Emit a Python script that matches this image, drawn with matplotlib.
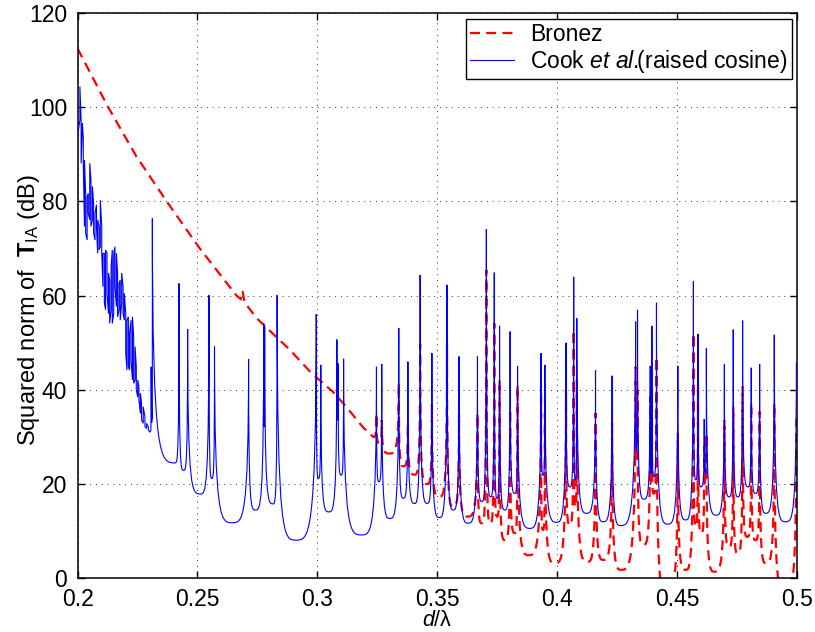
import matplotlib
matplotlib.use("Agg")
import matplotlib.pyplot as plt
from matplotlib.path import Path
from matplotlib.patches import PathPatch
from matplotlib.lines import Line2D

plt.rcParams["font.family"] = ["Liberation Sans", "DejaVu Sans"]
plt.rcParams["mathtext.fontset"] = "custom"
plt.rcParams["mathtext.rm"] = "Liberation Sans"
plt.rcParams["mathtext.it"] = "Liberation Sans:italic"
plt.rcParams["mathtext.bf"] = "Liberation Sans:bold"
plt.rcParams["font.size"] = 16.5

# ---- Cook et al. (raised cosine): noisy start, one high/low pair per column
cook_noise_x = [0.2000, 0.2010, 0.2015, 0.2020, 0.2024, 0.2029, 0.2034, 0.2040, 0.2045,
                0.2051, 0.2056, 0.2062, 0.2067, 0.2073, 0.2079, 0.2084, 0.2090, 0.2095,
                0.2101, 0.2106, 0.2112, 0.2117, 0.2123, 0.2129, 0.2134, 0.2140, 0.2145,
                0.2151, 0.2156, 0.2162, 0.2167, 0.2173, 0.2178, 0.2184, 0.2190, 0.2195,
                0.2201, 0.2206, 0.2212, 0.2217, 0.2223, 0.2229, 0.2234, 0.2240, 0.2245,
                0.2251, 0.2256, 0.2262, 0.2267, 0.2274, 0.2281, 0.2288, 0.2295]
cook_noise_hi = [110.4, 104.4, 97.3, 96.6, 93.8, 88.8, 81.7, 81.0, 81.7, 88.1, 84.6, 83.2,
                 79.6, 77.5, 79.3, 76.1, 74.7, 80.3, 74.7, 69.0, 69.0, 69.7, 69.0, 64.8,
                 63.3, 66.2, 69.7, 69.0, 70.4, 69.0, 64.8, 62.6, 63.3, 64.8, 61.9, 60.5,
                 56.2, 54.8, 55.5, 52.0, 54.8, 55.5, 51.3, 49.2, 44.9, 42.1, 40.7, 39.3,
                 37.1, 36.4, 34.3, 32.9, 32.2]
cook_noise_lo = [93.8, 97.3, 88.1, 95.2, 88.1, 74.7, 73.3, 71.8, 77.5, 76.1, 74.7, 76.1,
                 73.3, 71.8, 74.7, 69.0, 69.7, 70.4, 69.0, 61.9, 58.4, 57.0, 60.5, 56.2,
                 54.1, 57.0, 54.1, 56.2, 61.9, 57.7, 55.5, 57.0, 54.8, 58.4, 56.2, 54.8,
                 47.8, 44.2, 44.9, 44.2, 46.3, 42.1, 41.4, 42.1, 40.0, 38.5, 37.8, 35.0,
                 33.6, 32.9, 32.2, 31.8, 31.5]
cook_tail_x = [0.2302, 0.2306, 0.2307, 0.2309, 0.2311]
cook_tail_y = [31.0, 31.5, 44.9, 33.0, 34.0]

# resonance peaks and the valley that follows each peak
cook_peak_x = [0.2312, 0.2423, 0.2459, 0.2548, 0.2571, 0.2713, 0.2776, 0.2780, 0.2832,
               0.2995, 0.3014, 0.3081, 0.3086, 0.3109, 0.3246, 0.3268, 0.3339, 0.3377,
               0.3428, 0.3477, 0.3540, 0.3590, 0.3667, 0.3704, 0.3737, 0.3759, 0.3803,
               0.3834, 0.3932, 0.3948, 0.4036, 0.4068, 0.4081, 0.4159, 0.4228, 0.4326,
               0.4334, 0.4387, 0.4394, 0.4413, 0.4502, 0.4567, 0.4586, 0.4612, 0.4621,
               0.4696, 0.4733, 0.4772, 0.4808, 0.4843, 0.4904, 0.4996]
cook_peak_y = [76.4, 62.6, 52.9, 60.1, 49.2, 46.5, 54.1, 53.5, 60.1,
               56.1, 45.3, 50.7, 45.6, 46.6, 44.9, 45.5, 53.1, 46.0,
               64.4, 47.8, 62.3, 47.1, 47.1, 74.1, 64.9, 53.6, 52.4,
               45.1, 47.8, 45.3, 50.0, 64.0, 55.2, 44.2, 43.0, 54.5,
               57.0, 45.1, 53.6, 58.5, 45.1, 63.1, 51.9, 33.8, 48.8,
               45.4, 52.8, 54.7, 44.7, 45.5, 51.7, 45.8]
cook_valley_x = [0.2407, 0.2442, 0.2512, 0.2560, 0.2645, 0.2741, 0.2778, 0.2815, 0.2910,
                 0.3004, 0.3047, 0.3084, 0.3099, 0.3184, 0.3256, 0.3302, 0.3358, 0.3405,
                 0.3458, 0.3508, 0.3566, 0.3628, 0.3685, 0.3722, 0.3749, 0.3781, 0.3823,
                 0.3885, 0.3940, 0.3997, 0.4052, 0.4075, 0.4122, 0.4191, 0.4263, 0.4330,
                 0.4361, 0.4390, 0.4402, 0.4460, 0.4535, 0.4577, 0.4598, 0.4617, 0.4663,
                 0.4716, 0.4752, 0.4795, 0.4826, 0.4868, 0.4951]
cook_valley_y = [24.5, 22.9, 17.9, 21.2, 11.8, 14.5, 32.2, 15.8, 8.1,
                 21.2, 14.1, 33.6, 21.9, 9.2, 20.5, 12.7, 17.0, 15.9,
                 15.9, 12.9, 14.5, 11.7, 16.3, 17.3, 17.0, 14.5, 18.0,
                 10.6, 21.9, 11.9, 19.4, 20.9, 13.8, 12.0, 11.2, 27.2,
                 16.8, 22.3, 21.6, 11.5, 12.4, 20.9, 19.4, 22.2, 13.4,
                 17.3, 17.3, 19.4, 18.0, 13.8, 12.0]

# ---- Bronez: smooth decay, then resonances
bronez_line_x = [0.2000, 0.2128, 0.2245, 0.2372, 0.2510, 0.2663, 0.2680, 0.2688, 0.2696,
                 0.2747, 0.2885, 0.2969, 0.3066, 0.3110, 0.3191, 0.3233]
bronez_line_y = [112.5, 100.0, 89.6, 80.0, 70.0, 60.0, 59.3, 61.0, 58.6,
                 55.2, 48.5, 43.9, 39.5, 37.0, 32.0, 30.0]
bronez_peak_x = [0.3246, 0.3268, 0.3339, 0.3377, 0.3428, 0.3477, 0.3540, 0.3590, 0.3667,
                 0.3704, 0.3737, 0.3759, 0.3803, 0.3834, 0.3932, 0.3948, 0.4036, 0.4068,
                 0.4081, 0.4159, 0.4228, 0.4326, 0.4334, 0.4387, 0.4394, 0.4413, 0.4502,
                 0.4567, 0.4586, 0.4612, 0.4621, 0.4696, 0.4733, 0.4772, 0.4808, 0.4843,
                 0.4904, 0.4996]
bronez_peak_y = [35.0, 33.6, 41.4, 32.9, 49.7, 36.8, 49.9, 35.0, 35.0,
                 65.5, 54.1, 42.1, 36.0, 40.9, 39.6, 35.0, 39.3, 52.7,
                 42.1, 35.1, 32.9, 44.9, 40.0, 38.6, 34.0, 47.0, 30.8,
                 52.0, 41.4, 28.0, 30.8, 33.6, 36.4, 40.7, 37.2, 35.4,
                 37.2, 34.0]
bronez_valley_x = [0.3256, 0.3300, 0.3358, 0.3405, 0.3456, 0.3508, 0.3566, 0.3625, 0.3685,
                   0.3720, 0.3749, 0.3781, 0.3823, 0.3880, 0.3940, 0.3990, 0.4052, 0.4075,
                   0.4125, 0.4192, 0.4266, 0.4330, 0.4358, 0.4390, 0.4402, 0.4455, 0.4535,
                   0.4577, 0.4600, 0.4617, 0.4655, 0.4716, 0.4752, 0.4792, 0.4826, 0.4870,
                   0.4950]
bronez_valley_y = [28.8, 26.5, 23.8, 22.0, 20.0, 17.3, 15.2, 13.1, 11.7,
                   11.7, 13.1, 8.1, 9.6, 4.9, 10.3, 3.2, 11.3, 15.2,
                   3.5, 3.9, 1.8, 25.0, 7.1, 20.0, 18.0, -3.0, 1.8,
                   11.0, 9.6, 20.0, 1.4, 6.7, 5.3, 8.8, 8.1, 3.2,
                   -3.0]

x_ticks = [0.2, 0.25, 0.3, 0.35, 0.4, 0.45, 0.5]
y_ticks = [0, 20, 40, 60, 80, 100, 120]


def resonance_path(start, peak_x, peak_y, valley_x, valley_y, sharp=0.35):
    """Polyline start, then cusp-shaped peaks joined by rounded valleys"""
    verts = list(start)
    codes = [Path.MOVETO] + [Path.LINETO] * (len(verts) - 1)
    cur_x, cur_y = verts[-1]
    for i, (px, py) in enumerate(zip(peak_x, peak_y)):
        verts += [(px - sharp * (px - cur_x), cur_y), (px, cur_y), (px, py)]
        codes += [Path.CURVE4] * 3
        if i < len(valley_x):
            vx, vy = valley_x[i], valley_y[i]
            verts += [(px, vy), (px + sharp * (vx - px), vy), (vx, vy)]
            codes += [Path.CURVE4] * 3
            cur_x, cur_y = vx, vy
    return Path(verts, codes)


# noisy part drawn as a jagged polyline
cook_start = []
for i, (x, hi, lo) in enumerate(zip(cook_noise_x, cook_noise_hi, cook_noise_lo)):
    pair = [(x, hi), (x, lo)] if i % 2 == 0 else [(x, lo), (x, hi)]
    cook_start += pair
cook_start += list(zip(cook_tail_x, cook_tail_y))

cook_path = resonance_path(cook_start, cook_peak_x, cook_peak_y, cook_valley_x, cook_valley_y)
bronez_path = resonance_path(list(zip(bronez_line_x, bronez_line_y)),
                             bronez_peak_x, bronez_peak_y, bronez_valley_x, bronez_valley_y)

fig = plt.figure(figsize=(8.15, 6.32), dpi=100)
ax = fig.add_axes([0.0951, 0.0850, 0.8832, 0.8943])

red = (1, 0, 0)
blue = (0, 0, 1)
ax.add_patch(PathPatch(bronez_path, fill=False, edgecolor=red, lw=1.6,
                       linestyle=(0, (4.5, 2.8)), capstyle="butt", zorder=2))
ax.add_patch(PathPatch(cook_path, fill=False, edgecolor=blue, lw=0.8, zorder=3))

ax.set_xlim(0.2, 0.5)
ax.set_ylim(0, 120)
ax.set_xticks(x_ticks)
ax.set_xticklabels([f"{t:g}" for t in x_ticks])
ax.set_yticks(y_ticks)
ax.tick_params(direction="in", length=5, width=1, top=True, right=True)
ax.tick_params(axis="x", pad=7)
ax.tick_params(axis="y", pad=7.5)
for s in ax.spines.values():
    s.set_linewidth(1.1)
ax.grid(True, linestyle=(0, (1, 5)), color="#333333", linewidth=0.7)
ax.set_axisbelow(True)

ax.set_xlabel(r"$d/\mathrm{\lambda}$", fontsize=15.5, labelpad=-1)
ax.set_ylabel(r"Squared norm of  $\mathbf{T}_{\mathrm{IA}}$ (dB)", fontsize=17)
ax.yaxis.set_label_coords(-0.05, 0.475)

handles = [Line2D([], [], color=red, lw=1.6, linestyle=(0, (4.5, 2.8))),
           Line2D([], [], color=blue, lw=0.8)]
leg = ax.legend(handles, ["Bronez", r"Cook $et\ al.\!\!$(raised cosine)"], loc="upper right",
                fancybox=False, framealpha=1, edgecolor="black", borderaxespad=0.25,
                handlelength=1.9, labelspacing=0.05, borderpad=0.2, handletextpad=0.7)
leg.get_frame().set_linewidth(1.0)

fig.savefig("out.png", dpi=100)
